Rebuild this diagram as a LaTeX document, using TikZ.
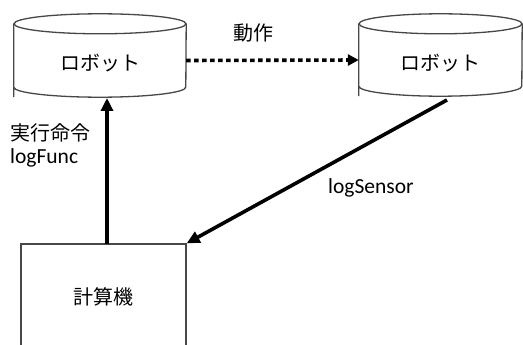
\documentclass[tikz,border=0pt]{standalone}
\usepackage{fontspec}
\setmainfont{Carlito}
\newfontfamily\jp{Noto Sans CJK JP}
\usetikzlibrary{arrows.meta}
\begin{document}
\begin{tikzpicture}[x=1pt,y=-1pt,
  outline/.style={draw=black!72,line width=1.3pt},
  lbl/.style={font=\fontsize{21.5}{25}\selectfont,inner sep=0pt},
  jlbl/.style={font=\jp\fontsize{20}{24}\selectfont,inner sep=0pt},
  thickarrow/.style={line width=3.6pt,-{Triangle[length=13pt,width=12pt]}},
  dotarrow/.style={line width=3.6pt,dash pattern=on 4.5pt off 3.5pt,-{Triangle[length=11pt,width=11pt]}}]
\useasboundingbox[fill=white] (0,0) rectangle (523,345);
\begin{scope}
\clip (0,0) rectangle (523,345);
% cylinder 1
\node[minimum width=172pt,minimum height=73pt,inner sep=0pt] (r1) at (100,60.5) {};
\draw[outline] (r1.north west) -- (r1.south west) ++(0,-10) arc[start angle=180,end angle=360,x radius=86,y radius=-10] -- (r1.north east);
\draw[outline] (r1.north) ellipse[x radius=86,y radius=10];
\node[jlbl] (t1) at (100,63) {ロボット};
% cylinder 2
\node[minimum width=163pt,minimum height=72pt,inner sep=0pt] (r2) at (440.5,60) {};
\draw[outline] (r2.north west) -- (r2.south west) ++(0,-10) arc[start angle=180,end angle=360,x radius=81.5,y radius=-10] -- (r2.north east);
\draw[outline] (r2.north) ellipse[x radius=81.5,y radius=10];
\node[jlbl] (t2) at (440.5,63) {ロボット};
% computer
\node[outline,minimum width=165pt,minimum height=106pt,inner sep=0pt] (c) at (103.5,297) {};
\node[jlbl] (t3) at (104,297) {計算機};
\end{scope}
% connectors
\coordinate (a1s) at (107,244);
\coordinate (a1e) at (107,98);
\draw[thickarrow] (a1s) -- (a1e);
\coordinate (a2s) at (447,100);
\draw[thickarrow] (a2s) -- (c.north east);
\draw[dotarrow] (r1.east) -- (r2.west);
% labels
\node[jlbl,anchor=center] (l1) at (253,33) {動作};
\node[jlbl,anchor=west] (l2) at (10,133) {実行命令};
\node[lbl,anchor=west] (l3) at (10,158) {logFunc};
\node[lbl,anchor=west] (l4) at (328,188) {logSensor};
\end{tikzpicture}
\end{document}
